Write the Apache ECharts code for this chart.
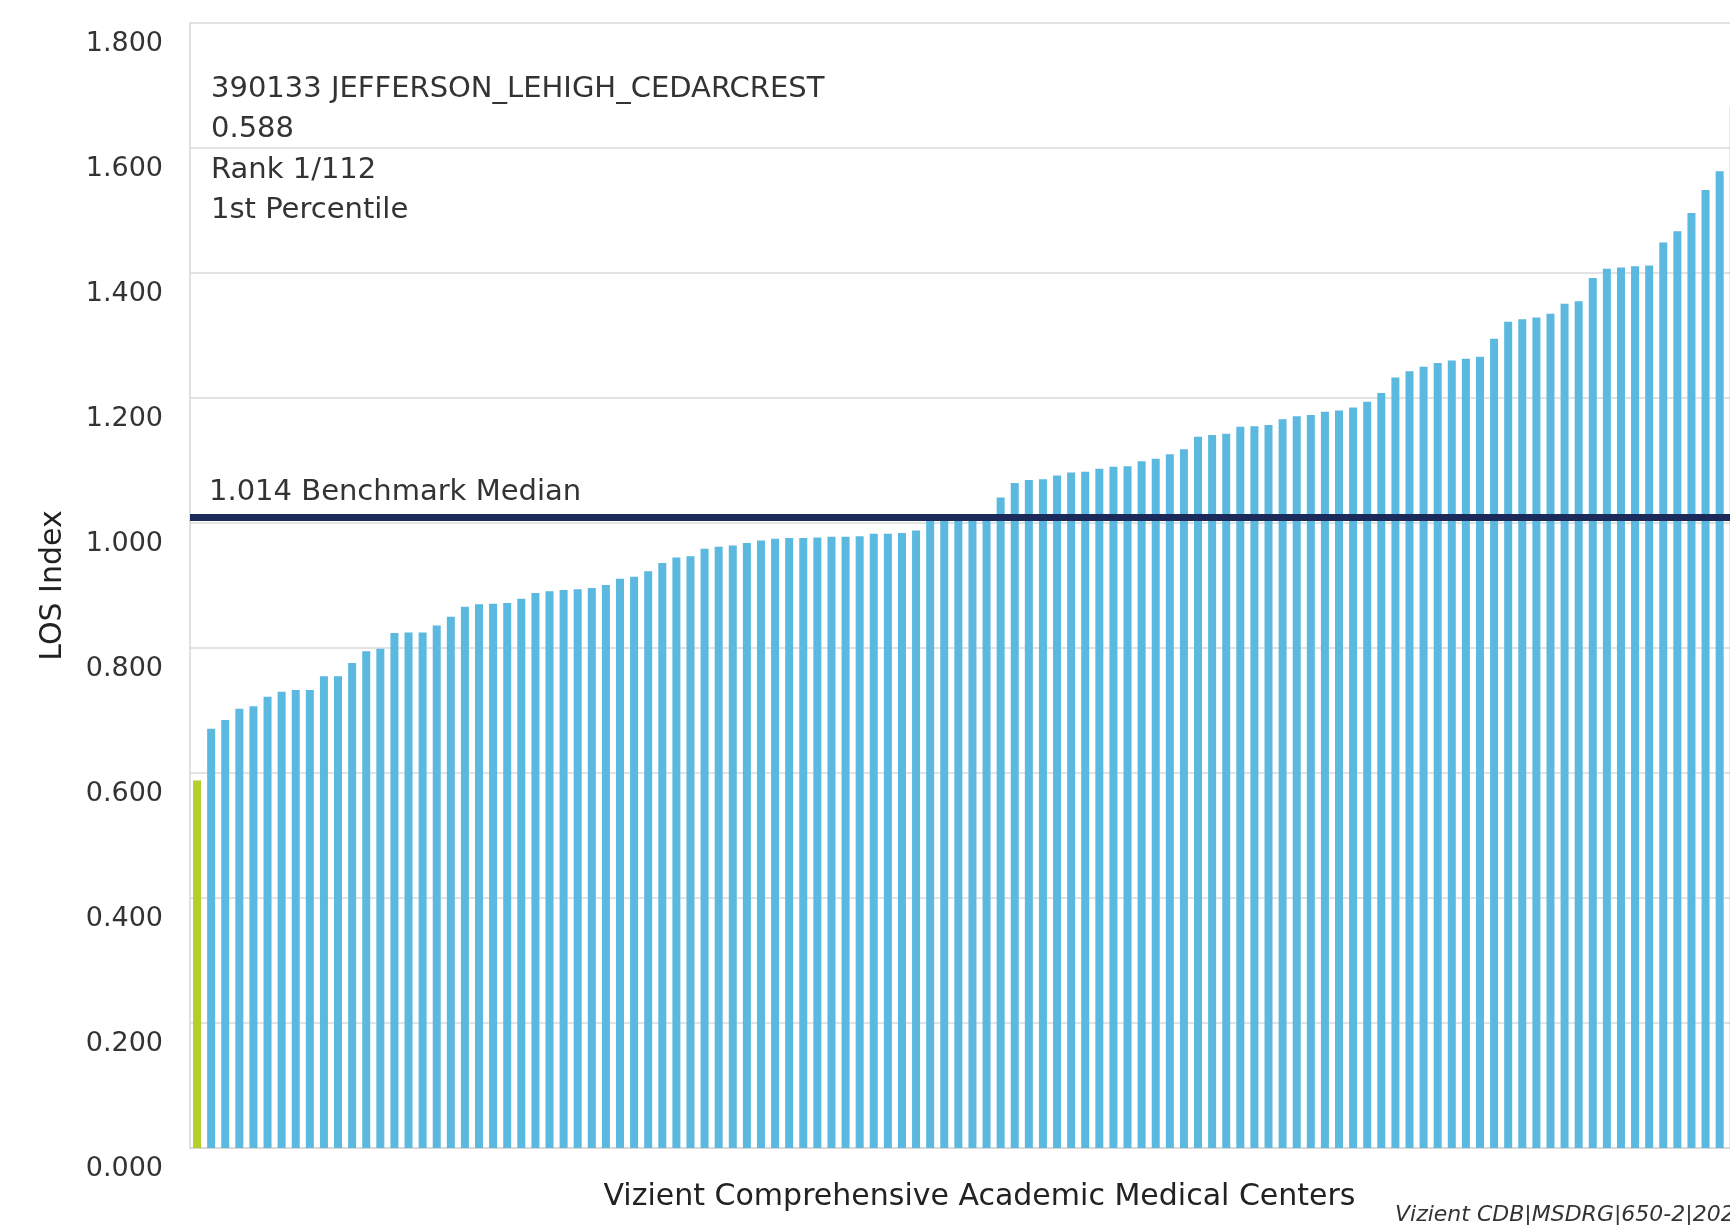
<!DOCTYPE html>
<html>
<head>
<meta charset="utf-8">
<script src="https://cdn.jsdelivr.net/npm/echarts@6/dist/echarts.min.js"></script>
<style>
html, body { margin: 0; padding: 0; background: #ffffff; overflow: hidden; width: 1730px; height: 1225px; }
#chart { width: 1810px; height: 1225px; }
</style>
</head>
<body>
<div id="chart"></div>
<script>
// ---- data ----
const losIndex = [
  0.588, 0.671, 0.685, 0.703, 0.707, 0.722, 0.730, 0.733, 0.733, 0.755,
  0.755, 0.776, 0.795, 0.799, 0.824, 0.825, 0.825, 0.836, 0.850, 0.866,
  0.870, 0.871, 0.872, 0.879, 0.888, 0.891, 0.893, 0.894, 0.896, 0.901,
  0.911, 0.914, 0.923, 0.936, 0.945, 0.947, 0.959, 0.962, 0.964, 0.968,
  0.972, 0.975, 0.976, 0.976, 0.977, 0.978, 0.978, 0.979, 0.983, 0.983,
  0.984, 0.988, 1.008, 1.011, 1.012, 1.013, 1.014, 1.041, 1.064, 1.069,
  1.070, 1.076, 1.081, 1.082, 1.087, 1.090, 1.091, 1.099, 1.103, 1.110,
  1.118, 1.138, 1.141, 1.143, 1.154, 1.155, 1.157, 1.166, 1.171, 1.173,
  1.178, 1.180, 1.185, 1.194, 1.208, 1.233, 1.243, 1.250, 1.256, 1.260,
  1.263, 1.266, 1.295, 1.322, 1.326, 1.329, 1.335, 1.351, 1.355, 1.392,
  1.407, 1.409, 1.411, 1.412, 1.449, 1.467, 1.496, 1.533, 1.563, 1.666,
  1.720, 1.780
];
const hospitalRanks = losIndex.map((_, i) => String(i + 1));
const highlightIndex = 0;
const benchmarkMedian = 1.014;
const yTicks = { min: 0, max: 1.8, interval: 0.2 };
const hospitalName = '390133 JEFFERSON_LEHIGH_CEDARCREST';
const hospitalValue = '0.588';
const hospitalRank = 'Rank 1/112';
const hospitalPercentile = '1st Percentile';
const yAxisTitle = 'LOS Index';
const xAxisTitle = 'Vizient Comprehensive Academic Medical Centers';
const sourceNote = 'Vizient CDB|MSDRG|650-2|2023';

// ---- chart ----
const FONT = '"DejaVu Sans", "Open Sans", sans-serif';
const blue = '#5BB8DE';
const green = '#B4CF2C';
const chart = echarts.init(document.getElementById('chart'), null, { renderer: 'canvas' });

const barData = losIndex.map((v, i) => (i === highlightIndex
  ? { value: v, itemStyle: { color: green } }
  : { value: v }));

chart.setOption({
  animation: false,
  backgroundColor: '#ffffff',
  grid: { left: 190, top: 23, width: 1579, height: 1125, containLabel: false },
  xAxis: {
    type: 'category',
    data: hospitalRanks,
    name: xAxisTitle,
    nameLocation: 'middle',
    nameGap: 34,
    nameTextStyle: { fontFamily: FONT, fontSize: 30, color: '#222', verticalAlign: 'top' },
    axisLine: { show: true, lineStyle: { color: '#d6d6d6', width: 1.5 } },
    axisTick: { show: false },
    axisLabel: { show: false },
    splitLine: { show: false }
  },
  yAxis: {
    type: 'value',
    min: yTicks.min,
    max: yTicks.max,
    interval: yTicks.interval,
    name: yAxisTitle,
    nameLocation: 'middle',
    nameGap: 122,
    nameRotate: 90,
    nameTextStyle: { fontFamily: FONT, fontSize: 30, color: '#222' },
    axisLine: { show: true, lineStyle: { color: '#d6d6d6', width: 1.5 } },
    axisTick: { show: false },
    axisLabel: {
      margin: 27,
      fontFamily: FONT,
      fontSize: 27,
      color: '#333',
      verticalAlign: 'top',
      lineHeight: 32,
      padding: [5, 0, 0, 0],
      formatter: v => v.toFixed(3)
    },
    splitLine: { show: true, lineStyle: { color: '#dadada', width: 1.5 } }
  },
  series: [{
    type: 'bar',
    data: barData,
    barWidth: 8,
    itemStyle: { color: blue },
    silent: true,
    markLine: {
      silent: true,
      symbol: ['none', 'none'],
      lineStyle: { color: '#1C2A5A', width: 7, type: 'solid' },
      label: {
        show: true,
        position: 'insideStartTop',
        distance: [19, 10],
        formatter: benchmarkMedian.toFixed(3) + ' Benchmark Median',
        fontFamily: FONT,
        fontSize: 29,
        color: '#333'
      },
      data: [{ yAxis: benchmarkMedian }]
    }
  }],
  graphic: [
    {
      type: 'text',
      left: 211,
      top: 69,
      style: {
        text: [hospitalName, hospitalValue, hospitalRank, hospitalPercentile].join('\n'),
        font: '29px ' + FONT,
        lineHeight: 40.5,
        fill: '#333'
      }
    },
    {
      type: 'text',
      left: 1395,
      top: 1204,
      style: {
        text: sourceNote,
        font: 'italic 22px ' + FONT,
        fill: '#333'
      }
    }
  ]
});
</script>
</body>
</html>
